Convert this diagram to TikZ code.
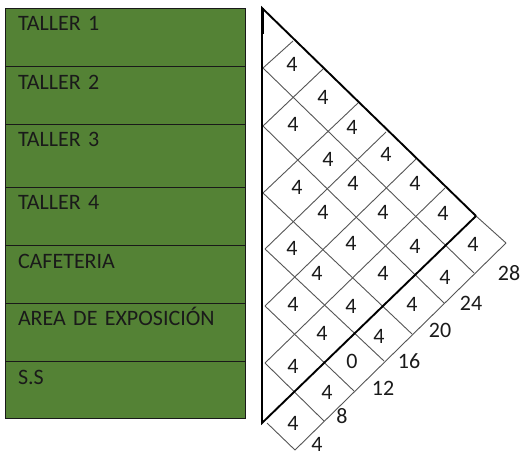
\documentclass[tikz,border=0pt]{standalone}
\usepackage{fontspec}
\setmainfont{Carlito}
\usetikzlibrary{positioning}
\definecolor{salaGreen}{HTML}{548235}
\definecolor{gridGrey}{HTML}{555555}
\definecolor{textDark}{HTML}{1A1A1A}

\begin{document}
\begin{tikzpicture}[x=1pt, y=-1pt, font=\fontsize{22}{24}\selectfont, text=textDark,
    sala/.style={draw=black!90, line width=0.9pt, fill=salaGreen, minimum width=240pt,
      text width=214pt, inner xsep=13pt, inner ysep=0pt, outer sep=0pt, align=left,
      text height=22.5pt, text depth=#1pt-22.5pt},
    cota/.style={inner sep=0pt},
    reja/.style={draw=gridGrey, line width=0.9pt},
    borde/.style={draw=black, line width=1.9pt}]
    \useasboundingbox (0,0) rectangle (521,455);

    % columna de salas
    \node[sala=58.5, anchor=north west] (t1) at (5,8) {TALLER 1};
    \node[sala=57.5, below=0pt of t1] (t2) {TALLER 2};
    \node[sala=63, below=0pt of t2] (t3) {TALLER 3};
    \node[sala=58.5, below=0pt of t3] (t4) {TALLER 4};
    \node[sala=57.5, below=0pt of t4] (caf) {CAFETERIA};
    \node[sala=58.5, below=0pt of caf] (expo) {AREA DE EXPOSICIÓN};
    \node[sala=56.5, below=0pt of expo] (ss) {S.S};

    % reja de asientos
    \foreach \xa/\ya/\xb/\yb in {263/68/474/273, 263/126/444/303, 263/193/412/334,
        265/249/384/361, 265/306/354/391, 265/363/324/421, 267/423/295/450,
        476/216/506/243, 263/68/293/41, 263/126/323/69, 263/193/358/103,
        265/249/386/132, 265/306/416/159, 265/363/445/188, 295/450/506/243}
      \draw[reja] (\xa,\ya) -- (\xb,\yb);

    % contorno
    \draw[borde, line join=miter] (476,216) -- (262,423) -- (262,8) -- (476,216);
    \draw[draw=black, line width=3pt] (262,8) -- (262,34);

    % numeros
    \foreach \px/\py/\txt [count=\i] in {292/64/4, 323/97/4, 293/124/4, 352/127/4, 328/159/4,
        386/154/4, 297/187/4, 353/183/4, 415/183/4, 323/212/4, 383/212/4, 443/213/4,
        292/248/4, 351/243/4, 415/246/4, 473/244/4, 317/273/4, 383/273/4, 445/277/4,
        293/304/4, 351/306/4, 412/304/4, 322/333/4, 379/336/4, 293/366/4, 352/361/0,
        327/392/4, 293/423/4, 317/444/4, 342/416/8, 383/388/12, 409/361/16,
        440/330/20, 471/303/24, 509/273/28}
      \node[cota] (n\i) at (\px,\py) {\txt};
\end{tikzpicture}
\end{document}
